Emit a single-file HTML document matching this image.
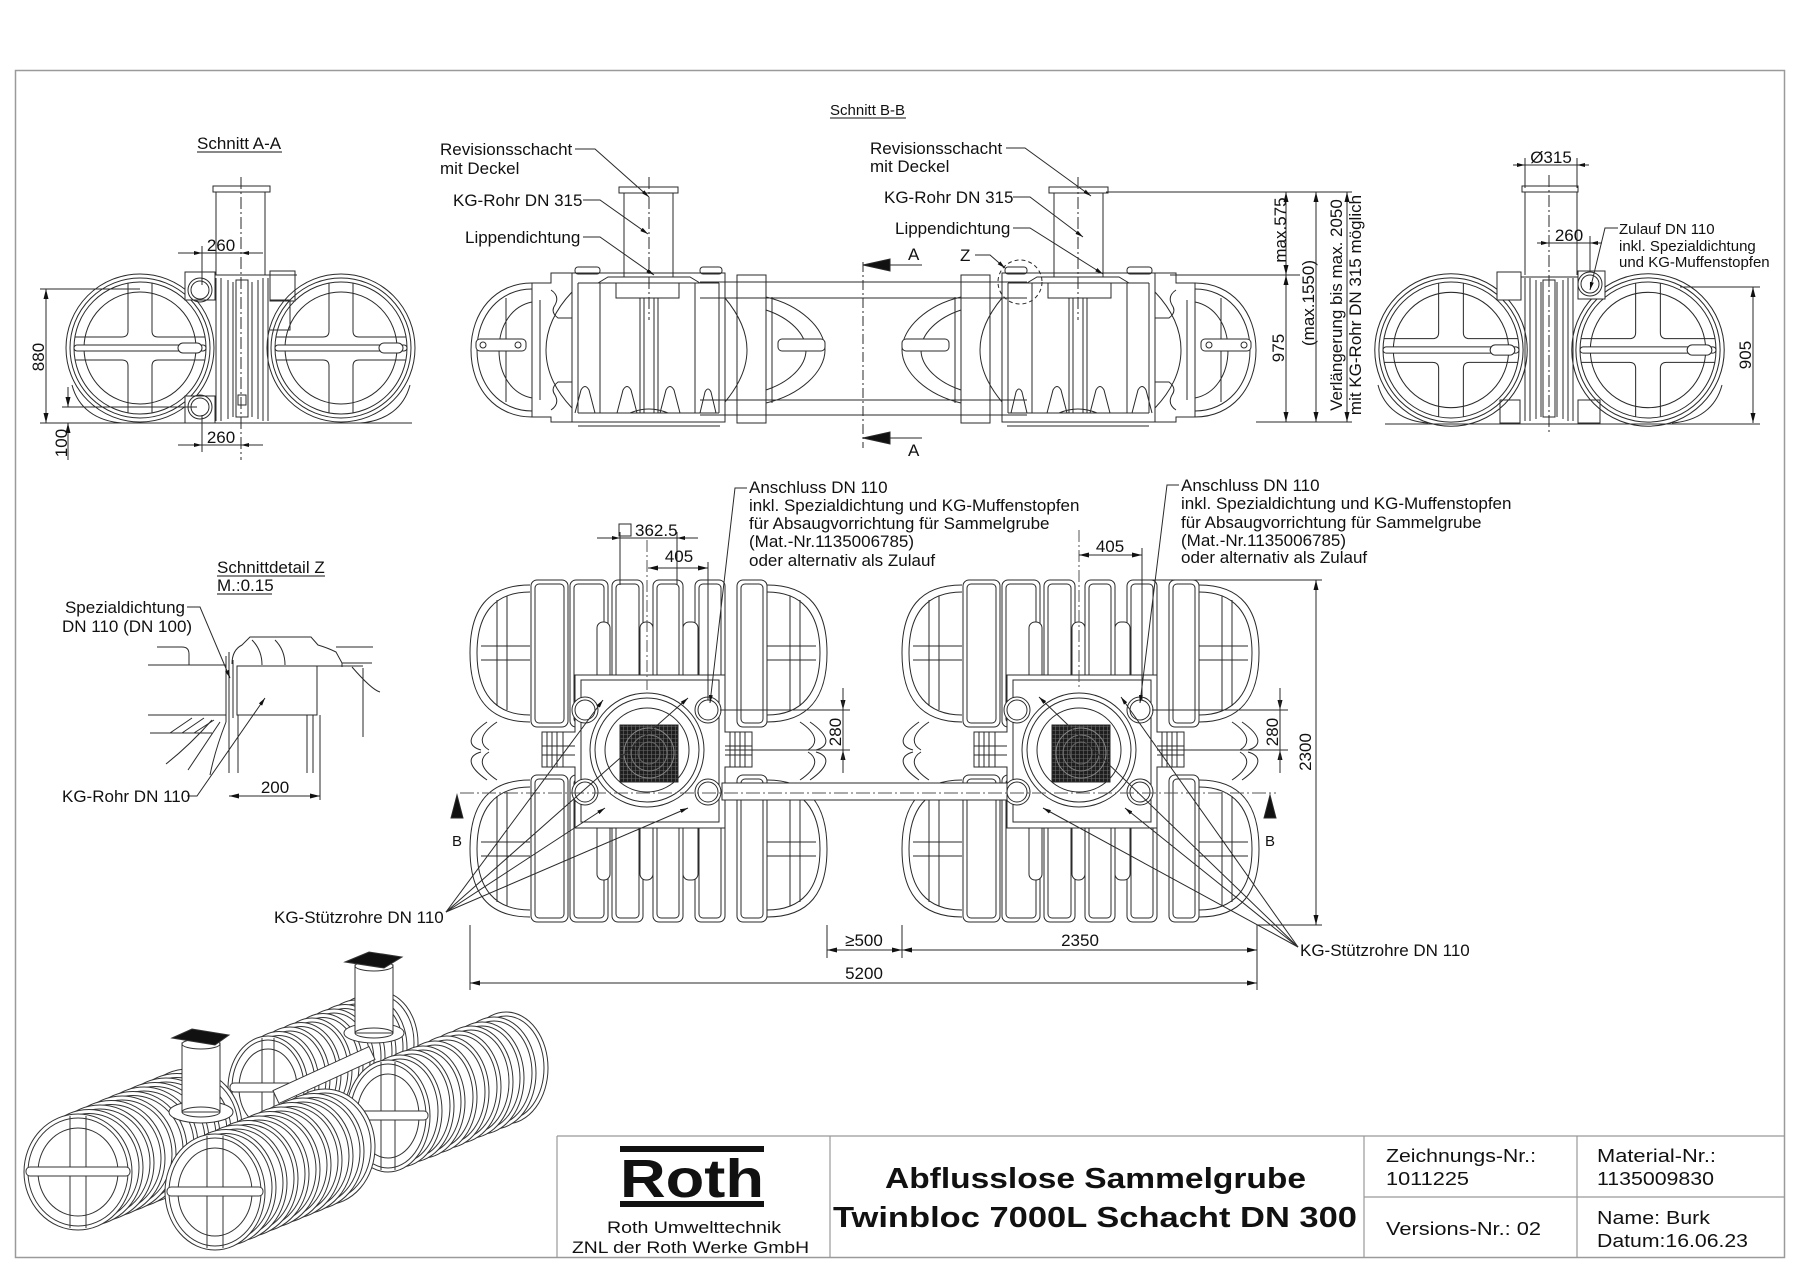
<!DOCTYPE html>
<html><head><meta charset="utf-8"><title>Abflusslose Sammelgrube Twinbloc 7000L</title>
<style>
html,body{margin:0;padding:0;background:#fff;width:1800px;height:1273px;overflow:hidden}
svg{display:block}
text{font-family:"Liberation Sans",Arial,sans-serif;fill:#111;stroke:none}
</style></head><body>
<svg xmlns="http://www.w3.org/2000/svg" width="1800" height="1273" viewBox="0 0 1800 1273">
<defs>
 <marker id="ah" viewBox="0 0 10 5" refX="10" refY="2.5" markerWidth="10" markerHeight="5" markerUnits="userSpaceOnUse" orient="auto-start-reverse"><path d="M0,0L10,2.5L0,5z" fill="#111" stroke="none"/></marker>
 <marker id="sa" viewBox="0 0 8 4" refX="8" refY="2" markerWidth="8" markerHeight="4" markerUnits="userSpaceOnUse" orient="auto"><path d="M0,0L8,2L0,4z" fill="#111" stroke="none"/></marker>
 <pattern id="grid" width="4" height="4" patternUnits="userSpaceOnUse"><rect width="4" height="4" fill="#1e1e1e"/><path d="M0,0.5H4M0.5,0V4" stroke="#6a6a6a" stroke-width="0.6"/></pattern>

 <g id="tc">
  <circle r="74"/><circle r="70"/><circle r="66"/><circle r="56"/>
  <path d="M-12,-65V-17Q-12,-11 -18,-11H-65M12,-65V-17Q12,-11 18,-11H65M-12,65V18Q-12,12 -18,12H-65M12,65V18Q12,12 18,12H65"/>
  <rect x="-66" y="-3" width="132" height="6" rx="3" fill="#fff"/>
  <rect x="38" y="-5" width="24" height="10" rx="5" fill="#fff"/>
 </g>

 <g id="ht">
  <path d="M-117,-165C-160,-165 -177,-140 -177,-97C-177,-54 -160,-28 -117,-28"/>
  <path d="M-117,-158C-152,-158 -170,-137 -170,-97C-170,-57 -152,-35 -117,-35"/>
  <path d="M-166,-104H-117M-166,-90H-117M-150,-150V-44M-140,-154V-40"/>
  <path d="M120,-165C163,-165 180,-140 180,-97C180,-54 163,-28 120,-28"/>
  <path d="M120,-158C155,-158 173,-137 173,-97C173,-57 155,-35 120,-35"/>
  <path d="M169,-104H120M169,-90H120M153,-150V-44M143,-154V-40"/>
  <rect x="-116" y="-170" width="37" height="147" rx="6"/><rect x="-112" y="-166" width="29" height="139" rx="4"/>
  <rect x="-77" y="-170" width="38" height="147" rx="6"/><rect x="-73" y="-166" width="30" height="139" rx="4"/>
  <rect x="-35" y="-170" width="31" height="147" rx="6"/><rect x="-31" y="-166" width="23" height="139" rx="4"/>
  <rect x="6" y="-170" width="30" height="147" rx="6"/><rect x="10" y="-166" width="22" height="139" rx="4"/>
  <rect x="48" y="-170" width="30" height="147" rx="6"/><rect x="52" y="-166" width="22" height="139" rx="4"/>
  <rect x="90" y="-170" width="30" height="147" rx="6"/><rect x="94" y="-166" width="22" height="139" rx="4"/>
  <rect x="-50" y="-128" width="13" height="62" rx="6" fill="#fff"/>
  <rect x="-7" y="-128" width="13" height="62" rx="6" fill="#fff"/>
  <rect x="36" y="-128" width="15" height="62" rx="6" fill="#fff"/>
  <path d="M-160,-28C-180,-14 -180,-4 -166,0M163,-28C183,-14 183,-4 169,0"/>
  <path d="M-150,-28C-168,-16 -168,-6 -158,0M153,-28C171,-16 171,-6 161,0"/>
 </g>

 <g id="mf">
  <path fill="#fff" d="M-72,-75H78V-18H105V17H78V78H-72V17H-105V-18H-72Z"/>
  <path d="M-100,-18V17M-95,-18V17M-90,-18V17M-84,-18V17M83,-18V17M88,-18V17M93,-18V17M98,-18V17"/>
  <path d="M-105,-4H-72M78,-4H105M-105,5H-72M78,5H105"/>
  <path d="M-66,-70H72V72H-66Z"/>
  <circle r="57" fill="#fff"/><circle r="52"/><circle r="42"/>
  <rect x="-27" y="-25" width="58" height="57" fill="url(#grid)"/>
  <circle cx="2" cy="3" r="25" stroke="#888"/><circle cx="2" cy="3" r="18" stroke="#777"/><circle cx="2" cy="3" r="11" stroke="#666"/>
  <circle cx="-62" cy="-40" r="13" fill="#fff"/><circle cx="-62" cy="-40" r="10"/>
  <circle cx="61" cy="-40" r="13" fill="#fff"/><circle cx="61" cy="-40" r="10"/>
  <circle cx="-62" cy="42" r="13" fill="#fff"/><circle cx="-62" cy="42" r="10"/>
  <circle cx="61" cy="42" r="13" fill="#fff"/><circle cx="61" cy="42" r="10"/>
 </g>

 <g id="pv">
  <use href="#ht"/>
  <use href="#ht" transform="translate(0,2) scale(1,-1)"/>
  <use href="#mf"/>
 </g>

 <g id="bbL">
  <path d="M532,283C495,283 471,312 471,350C471,388 495,417 532,417"/>
  <path d="M532,289C500,289 477,315 477,350C477,385 500,411 532,411"/>
  <path d="M532,302C512,306 499,325 499,350C499,375 512,394 532,398"/>
  <path d="M506,298V402"/>
  <rect x="476" y="339" width="50" height="12" rx="4" fill="#fff"/>
  <circle cx="483" cy="345" r="3"/><circle cx="518" cy="345" r="3"/>
  <path d="M532,283V417M572,273V422M532,283H551V273H572M532,417H551V422H572"/>
  <path d="M551,290Q560,296 555,305Q550,312 558,318H572M551,410Q560,404 555,395Q550,388 558,382H572M540,300V400"/>
  <path d="M572,273H725V422H572"/>
  <path d="M578,283H719M578,413H719M578,283V413M719,283V413"/>
  <path d="M572,292C553,312 546,332 546,350C546,368 553,388 572,408"/>
  <path d="M725,298C740,316 747,334 747,350C747,366 740,384 725,402"/>
  <path d="M600,283V413M695,283V413"/>
  <path d="M575,413L581,390Q585,383 589,390L595,413M617,413L623,390Q627,383 631,390L637,413M660,413L666,390Q670,383 674,390L680,413M700,413L705,392Q708,386 711,392L716,413"/>
  <path d="M640,298V413M644,298V413M654,298V413M658,298V413M630,413Q649,405 668,413"/>
  <rect x="575" y="267" width="25" height="7" rx="3"/>
  <rect x="700" y="267" width="22" height="7" rx="3"/>
  <path d="M598,283L608,277H690L700,283"/>
  <rect x="616" y="283" width="63" height="15"/>
  <path d="M624,193V277M673,193V277"/>
  <rect x="619" y="187" width="59" height="6"/>
  <path d="M649,177V320" stroke-dasharray="12 3 2 3"/>
  <rect x="737" y="275" width="29" height="148"/>
  <path d="M766,297C800,305 825,328 825,350C825,372 800,395 766,403"/>
  <path d="M766,310C790,318 806,334 806,350C806,366 790,382 766,390"/>
  <rect x="778" y="339" width="47" height="12" rx="4" fill="#fff"/>
  <path d="M772,297V403M578,426H720"/>
 </g>
</defs>

<rect width="1800" height="1273" fill="#fff"/>

<!-- frame -->
<rect x="15.5" y="70.5" width="1769" height="1187" fill="none" stroke="#9a9a9a" stroke-width="1.5"/>

<g fill="none" stroke="#2a2a2a" stroke-width="1">

<!-- ===== Schnitt A-A left ===== -->
<use href="#tc" x="140" y="348"/>
<use href="#tc" x="341" y="348"/>
<path d="M185,275H297"/>
<rect x="185" y="272" width="30" height="28" fill="#fff"/>
<circle cx="200" cy="290" r="12"/><circle cx="200" cy="290" r="9"/>
<rect x="185" y="396" width="30" height="27" fill="#fff"/>
<circle cx="200" cy="407" r="12"/><circle cx="200" cy="407" r="9"/>
<rect x="270" y="271" width="25" height="30"/>
<path d="M216,278V421M221,278V421M228,280V419M233,282V417M252,282V417M258,280V419M263,278V421M268,278V421"/>
<rect x="236" y="280" width="12" height="137" fill="#fff"/>
<rect x="238" y="395" width="8" height="10"/>
<path d="M270,300H290V330H270"/>
<path d="M72,385C78,408 96,421 122,423M410,385C404,408 386,421 360,423"/>
<path d="M40,423H412"/>
<rect x="213" y="186" width="57" height="6" fill="#fff"/>
<path d="M216,192V275M265,192V275"/>
<path d="M241,177V460" stroke-dasharray="12 3 2 3"/>
<!-- dims A-A left -->
<path d="M178,253H263M202,246V285M178,445H263M202,415V452"/>
<path d="M190,253H202" marker-end="url(#sa)"/><path d="M253,253H241" marker-end="url(#sa)"/>
<path d="M190,445H202" marker-end="url(#sa)"/><path d="M253,445H241" marker-end="url(#sa)"/>
<path d="M40,289H140"/>
<path d="M46,289V423" marker-start="url(#ah)" marker-end="url(#ah)"/>
<path d="M62,407H197"/>
<path d="M68,387V407" marker-end="url(#ah)"/><path d="M68,460V423" marker-end="url(#ah)"/>

<!-- ===== Schnitt A-A right ===== -->
<use href="#tc" transform="translate(1451,350) scale(1.03)"/>
<use href="#tc" transform="translate(1648,350) scale(1.03)"/>
<path d="M1497,277H1602"/>
<rect x="1497" y="272" width="24" height="28" fill="#fff"/>
<rect x="1578" y="271" width="27" height="28" fill="#fff"/>
<circle cx="1590" cy="284" r="12"/><circle cx="1590" cy="284" r="9"/>
<path d="M1525,278V421M1530,278V421M1536,280V419M1541,282V417M1557,282V417M1563,280V419M1568,278V421M1573,278V421"/>
<rect x="1543" y="280" width="12" height="137" fill="#fff"/>
<rect x="1500" y="400" width="20" height="23"/><rect x="1578" y="400" width="22" height="23"/>
<path d="M1378,385C1384,408 1402,421 1428,423M1722,385C1716,408 1698,421 1672,423M1385,424H1760"/>
<rect x="1522" y="186" width="56" height="6" fill="#fff"/>
<path d="M1525,192V275M1577,192V275"/>
<path d="M1549,175V432" stroke-dasharray="12 3 2 3"/>
<path d="M1515,165H1585M1525,158V188M1577,158V188"/>
<path d="M1513,165H1525" marker-end="url(#sa)"/><path d="M1589,165H1577" marker-end="url(#sa)"/>
<path d="M1537,243H1600M1590,236V272"/>
<path d="M1537,243H1549" marker-end="url(#sa)"/><path d="M1602,243H1590" marker-end="url(#sa)"/>
<path d="M1680,287H1760"/>
<path d="M1753,287V423" marker-start="url(#ah)" marker-end="url(#ah)"/>
<path d="M1618,228H1605L1590,290" marker-end="url(#sa)"/>

<!-- ===== Schnitt B-B ===== -->
<use href="#bbL"/>
<use href="#bbL" transform="matrix(-1 0 0 1 1727 0)"/>
<path d="M700,282H1027M700,298H1027M700,400H1027M700,415H1027"/>
<circle cx="1020" cy="282" r="22" stroke-dasharray="4 3"/>
<path d="M863,262V448" stroke-dasharray="10 3 2 3"/>
<polygon points="863,265 890,259 890,271" fill="#111"/>
<path d="M890,265H922"/>
<polygon points="863,438 890,432 890,444" fill="#111"/>
<path d="M890,438H922"/>
<!-- leaders B-B -->
<path d="M575,149H595L649,197" marker-end="url(#sa)"/>
<path d="M583,200H600L648,234" marker-end="url(#sa)"/>
<path d="M583,237H600L654,275" marker-end="url(#sa)"/>
<path d="M1006,148H1025L1091,196" marker-end="url(#sa)"/>
<path d="M1013,197H1030L1083,237" marker-end="url(#sa)"/>
<path d="M1013,228H1030L1103,274" marker-end="url(#sa)"/>
<path d="M975,255H990L1005,268" marker-end="url(#sa)"/>
<!-- dims B-B -->
<path d="M1106,192H1352M1170,275H1300M1256,422H1352"/>
<path d="M1286,192V275" marker-start="url(#ah)" marker-end="url(#ah)"/>
<path d="M1286,275V422" marker-start="url(#ah)" marker-end="url(#ah)"/>
<path d="M1316,192V422" marker-start="url(#ah)" marker-end="url(#ah)"/>
<path d="M1347,192V422" marker-start="url(#ah)" marker-end="url(#ah)"/>

<!-- ===== Plan views ===== -->
<use href="#pv" transform="translate(647,750)"/>
<use href="#pv" transform="translate(1079,750)"/>
<rect x="722" y="783" width="285" height="17" fill="#fff"/>
<path d="M460,793H1276" stroke-dasharray="14 3 2 3" stroke="#555"/>
<path d="M647,540V690M1079,530V690" stroke-dasharray="12 3 2 3" stroke="#555"/>
<!-- B arrows -->
<polygon points="457,795 451,818 463,818" fill="#111"/>
<polygon points="1270,795 1264,818 1276,818" fill="#111"/>
<!-- 362.5 & 405 -->
<path d="M597,538H698M620,532V585M677,532V585"/>
<path d="M607,538H620" marker-end="url(#sa)"/><path d="M690,538H677" marker-end="url(#sa)"/>
<rect x="619" y="524" width="12" height="12"/>
<path d="M708,562V700"/>
<path d="M648,568H708" marker-start="url(#ah)" marker-end="url(#ah)"/>
<path d="M1142,548V700"/>
<path d="M1079,555H1142" marker-start="url(#ah)" marker-end="url(#ah)"/>
<!-- 280 -->
<path d="M720,710H850M725,750H850"/>
<path d="M843,688V710" marker-end="url(#ah)"/><path d="M843,773V750" marker-end="url(#ah)"/>
<path d="M843,688V773"/>
<path d="M1152,710H1288M1157,750H1288"/>
<path d="M1280,688V710" marker-end="url(#ah)"/><path d="M1280,773V750" marker-end="url(#ah)"/>
<path d="M1280,688V773"/>
<!-- 2300 -->
<path d="M1150,580H1322M1257,925H1322"/>
<path d="M1316,580V925" marker-start="url(#ah)" marker-end="url(#ah)"/>
<!-- horizontal dims -->
<path d="M470,925V990M827,925V958M902,925V958M1257,925V990"/>
<path d="M827,950H902" marker-start="url(#ah)" marker-end="url(#ah)"/>
<path d="M902,950H1257" marker-start="url(#ah)" marker-end="url(#ah)"/>
<path d="M470,983H1257" marker-start="url(#ah)" marker-end="url(#ah)"/>
<!-- leaders plan -->
<path d="M747,488H735L710,703" marker-end="url(#sa)"/>
<path d="M1179,485H1167L1140,703" marker-end="url(#sa)"/>
<path d="M446,912L603,700" marker-end="url(#sa)"/><path d="M446,912L605,808" marker-end="url(#sa)"/>
<path d="M446,912L688,698" marker-end="url(#sa)"/><path d="M446,912L688,808" marker-end="url(#sa)"/>
<path d="M1298,947L1039,697" marker-end="url(#sa)"/><path d="M1298,947L1121,697" marker-end="url(#sa)"/>
<path d="M1298,947L1043,808" marker-end="url(#sa)"/><path d="M1298,947L1125,808" marker-end="url(#sa)"/>

<!-- ===== Schnittdetail Z ===== -->
<path d="M148,665H226M148,715H226"/>
<path d="M157,647H182Q189,647 189,654V665"/>
<path d="M226,656V722M229,652V720M233,660V718"/>
<rect x="237" y="666" width="80" height="49"/>
<path d="M232,664Q232,650 242,645L250,637H311L318,645Q328,648 336,652L342,663H372"/>
<path d="M336,647H373M342,663V667M252,640Q262,650 262,665M275,640Q285,650 285,665"/>
<path d="M317,666H363M363,668V737M352,667Q372,690 380,692"/>
<path d="M229,715V773M238,715V773M307,715V773M313,715V773M320,715V800"/>
<path d="M150,733H212M170,733L192,718M182,733L204,718M194,733L214,720"/>
<path d="M212,720Q190,745 166,764M220,722Q200,752 188,770M226,722Q215,750 210,775"/>
<path d="M229,796H320" marker-start="url(#ah)" marker-end="url(#ah)"/>
<path d="M187,607H200L230,678" marker-end="url(#sa)"/>
<path d="M187,796H197L265,698" marker-end="url(#sa)"/>

<!-- ===== 3D view ===== -->
<g stroke="#333">
 <!-- tank D -->
 <ellipse cx="378" cy="1043" rx="40" ry="52" fill="#fff"/><ellipse cx="378" cy="1043" rx="36" ry="48"/>
 <ellipse cx="367" cy="1047.5" rx="40" ry="52" fill="#fff"/><ellipse cx="367" cy="1047.5" rx="36" ry="48"/>
 <ellipse cx="356" cy="1052" rx="40" ry="52" fill="#fff"/><ellipse cx="356" cy="1052" rx="36" ry="48"/>
 <ellipse cx="345" cy="1056.5" rx="40" ry="52" fill="#fff"/><ellipse cx="345" cy="1056.5" rx="36" ry="48"/>
 <ellipse cx="334" cy="1061" rx="40" ry="52" fill="#fff"/><ellipse cx="334" cy="1061" rx="36" ry="48"/>
 <ellipse cx="323" cy="1065.5" rx="40" ry="52" fill="#fff"/><ellipse cx="323" cy="1065.5" rx="36" ry="48"/>
 <ellipse cx="312" cy="1070" rx="40" ry="52" fill="#fff"/><ellipse cx="312" cy="1070" rx="36" ry="48"/>
 <ellipse cx="301" cy="1074.5" rx="40" ry="52" fill="#fff"/><ellipse cx="301" cy="1074.5" rx="36" ry="48"/>
 <ellipse cx="290" cy="1079" rx="40" ry="52" fill="#fff"/><ellipse cx="290" cy="1079" rx="36" ry="48"/>
 <ellipse cx="279" cy="1083.5" rx="40" ry="52" fill="#fff"/><ellipse cx="279" cy="1083.5" rx="36" ry="48"/>
 <ellipse cx="268" cy="1088" rx="40" ry="52" fill="#fff"/><ellipse cx="268" cy="1088" rx="36" ry="48"/>
 <ellipse cx="268" cy="1088" rx="29" ry="39"/>
 <path d="M262,1038V1138M274,1038V1138"/>
 <rect x="230" y="1083" width="76" height="9" rx="4" fill="#fff"/>
 <!-- rear manifold & shaft -->
 <ellipse cx="374" cy="1033" rx="30" ry="10" fill="#fff"/>
 <rect x="355" y="965" width="38" height="68" fill="#fff"/>
 <ellipse cx="374" cy="1033" rx="19" ry="5"/>
 <ellipse cx="374" cy="966" rx="19" ry="5" fill="#fff"/>
 <polygon points="345,962 369,952 402,957 384,968" fill="#111"/>
 <!-- tank C -->
 <ellipse cx="506" cy="1068" rx="42" ry="56" fill="#fff"/><ellipse cx="506" cy="1068" rx="38" ry="52"/>
 <ellipse cx="494" cy="1073" rx="42" ry="56" fill="#fff"/><ellipse cx="494" cy="1073" rx="38" ry="52"/>
 <ellipse cx="482" cy="1078" rx="42" ry="56" fill="#fff"/><ellipse cx="482" cy="1078" rx="38" ry="52"/>
 <ellipse cx="471" cy="1082" rx="42" ry="56" fill="#fff"/><ellipse cx="471" cy="1082" rx="38" ry="52"/>
 <ellipse cx="459" cy="1087" rx="42" ry="56" fill="#fff"/><ellipse cx="459" cy="1087" rx="38" ry="52"/>
 <ellipse cx="447" cy="1092" rx="42" ry="56" fill="#fff"/><ellipse cx="447" cy="1092" rx="38" ry="52"/>
 <ellipse cx="435" cy="1097" rx="42" ry="56" fill="#fff"/><ellipse cx="435" cy="1097" rx="38" ry="52"/>
 <ellipse cx="423" cy="1102" rx="42" ry="56" fill="#fff"/><ellipse cx="423" cy="1102" rx="38" ry="52"/>
 <ellipse cx="412" cy="1106" rx="42" ry="56" fill="#fff"/><ellipse cx="412" cy="1106" rx="38" ry="52"/>
 <ellipse cx="400" cy="1111" rx="42" ry="56" fill="#fff"/><ellipse cx="400" cy="1111" rx="38" ry="52"/>
 <ellipse cx="388" cy="1116" rx="42" ry="56" fill="#fff"/><ellipse cx="388" cy="1116" rx="38" ry="52"/>
 <ellipse cx="388" cy="1116" rx="31" ry="42"/>
 <path d="M381,1062V1170M395,1062V1170"/>
 <rect x="348" y="1111" width="80" height="9" rx="4" fill="#fff"/>
 <!-- pipe -->
 <polygon points="273,1090.6 369,1046.6 375,1059.4 279,1103.4" fill="#fff"/>
 <!-- tank A -->
 <ellipse cx="188" cy="1127" rx="54" ry="58" fill="#fff"/><ellipse cx="188" cy="1127" rx="50" ry="54"/>
 <ellipse cx="177" cy="1131.5" rx="54" ry="58" fill="#fff"/><ellipse cx="177" cy="1131.5" rx="50" ry="54"/>
 <ellipse cx="166" cy="1136" rx="54" ry="58" fill="#fff"/><ellipse cx="166" cy="1136" rx="50" ry="54"/>
 <ellipse cx="155" cy="1140.5" rx="54" ry="58" fill="#fff"/><ellipse cx="155" cy="1140.5" rx="50" ry="54"/>
 <ellipse cx="144" cy="1145" rx="54" ry="58" fill="#fff"/><ellipse cx="144" cy="1145" rx="50" ry="54"/>
 <ellipse cx="133" cy="1149.5" rx="54" ry="58" fill="#fff"/><ellipse cx="133" cy="1149.5" rx="50" ry="54"/>
 <ellipse cx="122" cy="1154" rx="54" ry="58" fill="#fff"/><ellipse cx="122" cy="1154" rx="50" ry="54"/>
 <ellipse cx="111" cy="1158.5" rx="54" ry="58" fill="#fff"/><ellipse cx="111" cy="1158.5" rx="50" ry="54"/>
 <ellipse cx="100" cy="1163" rx="54" ry="58" fill="#fff"/><ellipse cx="100" cy="1163" rx="50" ry="54"/>
 <ellipse cx="89" cy="1167.5" rx="54" ry="58" fill="#fff"/><ellipse cx="89" cy="1167.5" rx="50" ry="54"/>
 <ellipse cx="78" cy="1172" rx="54" ry="58" fill="#fff"/><ellipse cx="78" cy="1172" rx="50" ry="54"/>
 <ellipse cx="78" cy="1172" rx="40" ry="44"/>
 <path d="M70,1116V1228M86,1116V1228"/>
 <rect x="26" y="1167" width="104" height="9" rx="4" fill="#fff"/>
 <!-- tank B -->
 <ellipse cx="325" cy="1147" rx="50" ry="58" fill="#fff"/><ellipse cx="325" cy="1147" rx="46" ry="54"/>
 <ellipse cx="314" cy="1151.5" rx="50" ry="58" fill="#fff"/><ellipse cx="314" cy="1151.5" rx="46" ry="54"/>
 <ellipse cx="303" cy="1156" rx="50" ry="58" fill="#fff"/><ellipse cx="303" cy="1156" rx="46" ry="54"/>
 <ellipse cx="292" cy="1160.5" rx="50" ry="58" fill="#fff"/><ellipse cx="292" cy="1160.5" rx="46" ry="54"/>
 <ellipse cx="281" cy="1165" rx="50" ry="58" fill="#fff"/><ellipse cx="281" cy="1165" rx="46" ry="54"/>
 <ellipse cx="270" cy="1169.5" rx="50" ry="58" fill="#fff"/><ellipse cx="270" cy="1169.5" rx="46" ry="54"/>
 <ellipse cx="259" cy="1174" rx="50" ry="58" fill="#fff"/><ellipse cx="259" cy="1174" rx="46" ry="54"/>
 <ellipse cx="248" cy="1178.5" rx="50" ry="58" fill="#fff"/><ellipse cx="248" cy="1178.5" rx="46" ry="54"/>
 <ellipse cx="237" cy="1183" rx="50" ry="58" fill="#fff"/><ellipse cx="237" cy="1183" rx="46" ry="54"/>
 <ellipse cx="226" cy="1187.5" rx="50" ry="58" fill="#fff"/><ellipse cx="226" cy="1187.5" rx="46" ry="54"/>
 <ellipse cx="215" cy="1192" rx="50" ry="58" fill="#fff"/><ellipse cx="215" cy="1192" rx="46" ry="54"/>
 <ellipse cx="215" cy="1192" rx="37" ry="44"/>
 <path d="M207,1136V1248M223,1136V1248"/>
 <rect x="167" y="1187" width="96" height="9" rx="4" fill="#fff"/>
 <!-- front manifold & shaft -->
 <ellipse cx="201" cy="1112" rx="32" ry="11" fill="#fff"/>
 <rect x="182" y="1043" width="38" height="69" fill="#fff"/>
 <ellipse cx="201" cy="1112" rx="19" ry="5"/>
 <ellipse cx="201" cy="1044" rx="19" ry="5" fill="#fff"/>
 <polygon points="172,1038 192,1029 229,1035 215,1045" fill="#111"/>
</g>

<!-- ===== title block ===== -->
<g stroke="#999" stroke-width="1.2">
 <path d="M557,1136H1785M557,1136V1257M830,1136V1257M1364,1136V1257M1577,1136V1257M1364,1197H1785"/>
</g>
</g>

<!-- Roth logo -->
<rect x="620" y="1146" width="144" height="6" fill="#111"/>
<rect x="620" y="1201" width="144" height="6" fill="#111"/>
<text x="620" y="1197" font-size="54" font-weight="bold" textLength="144" lengthAdjust="spacingAndGlyphs">Roth</text>

<!-- ===== texts ===== -->
<g font-size="17">
 <text x="830" y="115" font-size="15">Schnitt B-B</text>
 <text x="197" y="149">Schnitt A-A</text>
 <text x="440" y="155">Revisionsschacht</text>
 <text x="440" y="174">mit Deckel</text>
 <text x="453" y="206">KG-Rohr DN 315</text>
 <text x="465" y="243">Lippendichtung</text>
 <text x="870" y="154">Revisionsschacht</text>
 <text x="870" y="172">mit Deckel</text>
 <text x="884" y="203">KG-Rohr DN 315</text>
 <text x="895" y="234">Lippendichtung</text>
 <text x="908" y="260">A</text>
 <text x="908" y="456">A</text>
 <text x="960" y="261">Z</text>
 <text x="1286" y="230" text-anchor="middle" transform="rotate(-90 1286 230)">max.575</text>
 <text x="1284" y="348" text-anchor="middle" transform="rotate(-90 1284 348)">975</text>
 <text x="1314" y="303" text-anchor="middle" transform="rotate(-90 1314 303)">(max.1550)</text>
 <text x="1342" y="305" text-anchor="middle" transform="rotate(-90 1342 305)">Verlängerung bis max. 2050</text>
 <text x="1361" y="305" text-anchor="middle" transform="rotate(-90 1361 305)">mit KG-Rohr DN 315 möglich</text>
 <text x="44" y="357" text-anchor="middle" transform="rotate(-90 44 357)">880</text>
 <text x="67" y="443" text-anchor="middle" transform="rotate(-90 67 443)">100</text>
 <text x="221" y="251" text-anchor="middle">260</text>
 <text x="221" y="443" text-anchor="middle">260</text>
 <text x="1551" y="163" text-anchor="middle">Ø315</text>
 <text x="1569" y="241" text-anchor="middle">260</text>
 <text x="1619" y="234" font-size="15">Zulauf DN 110</text>
 <text x="1619" y="251" font-size="15">inkl. Spezialdichtung</text>
 <text x="1619" y="267" font-size="15">und KG-Muffenstopfen</text>
 <text x="1751" y="355" text-anchor="middle" transform="rotate(-90 1751 355)">905</text>

 <text x="749" y="493">Anschluss DN 110</text>
 <text x="749" y="511">inkl. Spezialdichtung und KG-Muffenstopfen</text>
 <text x="749" y="529">für Absaugvorrichtung für Sammelgrube</text>
 <text x="749" y="547">(Mat.-Nr.1135006785)</text>
 <text x="749" y="566">oder alternativ als Zulauf</text>
 <text x="1181" y="491">Anschluss DN 110</text>
 <text x="1181" y="509">inkl. Spezialdichtung und KG-Muffenstopfen</text>
 <text x="1181" y="528">für Absaugvorrichtung für Sammelgrube</text>
 <text x="1181" y="546">(Mat.-Nr.1135006785)</text>
 <text x="1181" y="563">oder alternativ als Zulauf</text>

 <text x="635" y="536">362.5</text>
 <text x="679" y="562" text-anchor="middle">405</text>
 <text x="1110" y="552" text-anchor="middle">405</text>
 <text x="841" y="732" text-anchor="middle" transform="rotate(-90 841 732)">280</text>
 <text x="1278" y="732" text-anchor="middle" transform="rotate(-90 1278 732)">280</text>
 <text x="1311" y="752" text-anchor="middle" transform="rotate(-90 1311 752)">2300</text>
 <text x="457" y="846" text-anchor="middle" font-size="15">B</text>
 <text x="1270" y="846" text-anchor="middle" font-size="15">B</text>
 <text x="864" y="946" text-anchor="middle">≥500</text>
 <text x="1080" y="946" text-anchor="middle">2350</text>
 <text x="864" y="979" text-anchor="middle">5200</text>
 <text x="274" y="923">KG-Stützrohre DN 110</text>
 <text x="1300" y="956">KG-Stützrohre DN 110</text>

 <text x="217" y="573">Schnittdetail Z</text>
 <text x="217" y="591">M.:0.15</text>
 <text x="185" y="613" text-anchor="end">Spezialdichtung</text>
 <text x="62" y="632">DN 110 (DN 100)</text>
 <text x="62" y="802">KG-Rohr DN 110</text>
 <text x="275" y="793" text-anchor="middle">200</text>
</g>
<g stroke="#111" stroke-width="1">
 <path d="M830,118H906M197,152H282M217,576H325M217,594H272"/>
</g>

<!-- title block texts -->
<text x="885" y="1188" font-size="29" font-weight="bold" textLength="421" lengthAdjust="spacingAndGlyphs">Abflusslose Sammelgrube</text>
<text x="833" y="1227" font-size="29" font-weight="bold" textLength="524" lengthAdjust="spacingAndGlyphs">Twinbloc 7000L Schacht DN 300</text>
<text x="607" y="1233" font-size="17" textLength="174" lengthAdjust="spacingAndGlyphs">Roth Umwelttechnik</text>
<text x="572" y="1253" font-size="17" textLength="237" lengthAdjust="spacingAndGlyphs">ZNL der Roth Werke GmbH</text>
<text x="1386" y="1162" font-size="18" textLength="150" lengthAdjust="spacingAndGlyphs">Zeichnungs-Nr.:</text>
<text x="1386" y="1185" font-size="18" textLength="83" lengthAdjust="spacingAndGlyphs">1011225</text>
<text x="1597" y="1162" font-size="18" textLength="119" lengthAdjust="spacingAndGlyphs">Material-Nr.:</text>
<text x="1597" y="1185" font-size="18" textLength="117" lengthAdjust="spacingAndGlyphs">1135009830</text>
<text x="1386" y="1235" font-size="18" textLength="155" lengthAdjust="spacingAndGlyphs">Versions-Nr.: 02</text>
<text x="1597" y="1224" font-size="18" textLength="113" lengthAdjust="spacingAndGlyphs">Name: Burk</text>
<text x="1597" y="1247" font-size="18" textLength="151" lengthAdjust="spacingAndGlyphs">Datum:16.06.23</text>
</svg>
</body></html>
